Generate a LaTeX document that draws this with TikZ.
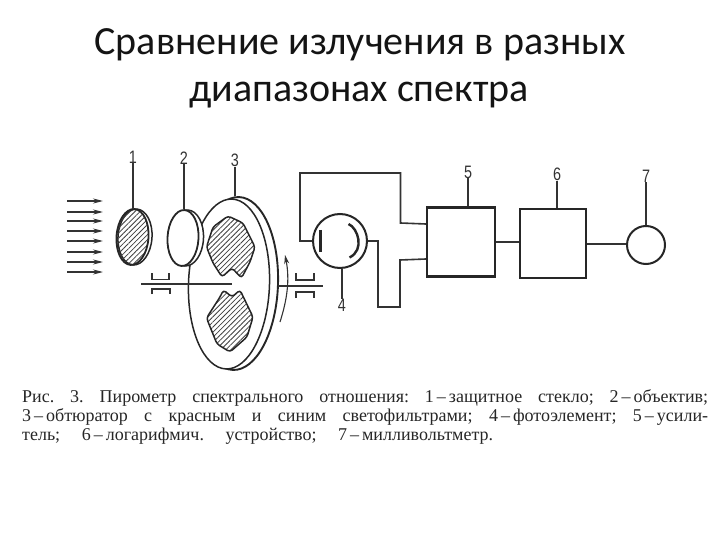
\documentclass[tikz,border=0pt]{standalone}
\usepackage{fontspec}
\setmainfont{Liberation Serif}
\newfontfamily\titlefont{Carlito}
\newfontfamily\numfont{Liberation Sans}
\usetikzlibrary{shapes.geometric,patterns.meta,arrows.meta}
\tikzset{
 ink/.style={draw=black!85,line width=1.5pt},
 thin ink/.style={draw=black!80,line width=1.1pt},
 wire/.style={draw=black!80,line width=1.6pt},
 blockbox/.style={rectangle,draw=black!85,line width=2.2pt,fill=white,inner sep=0pt},
 lensshape/.style={ellipse,inner sep=0pt,minimum width=#1,minimum height=56pt},
 hatched/.style={pattern={Lines[angle=45,distance=3.6pt,line width=.8pt]},pattern color=black!75},
 ray/.style={draw=black!80,line width=1.2pt,-{Stealth[length=10pt,width=5pt]}},
 numlabel/.style={font=\numfont\fontsize{18}{18}\selectfont,text=black!80,inner sep=0pt,xscale=.8},
 captionline/.style={font=\fontsize{18}{18}\selectfont\frenchspacing,text=black!85,inner sep=0pt,anchor=base west},
 titleline/.style={font=\titlefont\fontsize{40}{40}\selectfont,text=black!92,inner sep=0pt,anchor=base}
}
\begin{document}
\begin{tikzpicture}[x=1pt,y=-1pt]
\useasboundingbox (0,0) rectangle (720,540);
\fill[white] (0,0) rectangle (720,540);
% title
\node[titleline] (t1) at (360,55) {Сравнение излучения в разных};
\node[titleline] (t2) at (359,102) {диапазонах спектра};
% rays
\foreach \i/\y in {1/201,2/212,3/221,4/231,5/241,6/252,7/262,8/272}{
  \coordinate (ra\i) at (67,\y); \coordinate (rb\i) at (103,\y);
  \draw[ray] (ra\i) -- (rb\i);
}
% lens 1
\node[lensshape=34pt,ink,rotate=-4] (l1rim) at (135,237) {};
\node[lensshape=32pt,ink,line width=1.8pt,fill=white,hatched,rotate=-4] (l1) at (132.5,237) {};
% disk
\node[ellipse,ink,line width=1.9pt,fill=white,inner sep=0pt,minimum width=84pt,minimum height=173pt,rotate=-2] (d3rim) at (236,283.5) {};
\node[ellipse,ink,fill=white,inner sep=0pt,minimum width=81pt,minimum height=170pt,rotate=-2] (d3) at (229,284) {};
% windows
\draw[ink,hatched,rounded corners=3pt] (206.5,247)--(213,227)--(228,216)--(243,223)--(255,247)--(250,262)--(241.5,278)--(232,268)--(222,277)--(213,263)--cycle;
\draw[ink,hatched,rounded corners=3pt] (206.5,318)--(220,297)--(223.5,290)--(232,297)--(240,290)--(253,317)--(247,337)--(230,352)--(217,344)--cycle;
% lens 2
\node[lensshape=34pt,ink,fill=white,rotate=-3] (l2rim) at (186.5,238) {};
\node[lensshape=31pt,ink,line width=1.8pt,fill=white,rotate=-3] (l2) at (183,238) {};
% shaft and bearings
\coordinate (s1) at (141,284); \coordinate (s2) at (232,284);
\coordinate (s3) at (278,286); \coordinate (s4) at (323,286);
\draw[wire] (s1)--(s2); \draw[wire] (s3)--(s4);
\draw[thin ink] (152,273)--(152,279.5)--(169,279.5)--(169,273);
\draw[thin ink] (152,294)--(152,289)--(170,289)--(170,294);
\draw[thin ink] (296,273)--(296,280)--(314,280)--(314,273);
\draw[thin ink] (296,298)--(296,292)--(314,292)--(314,298);
% rotation arrow
\coordinate (ra) at (280,322); \coordinate (rb) at (285,255);
\draw[thin ink,-{Stealth[length=9pt,width=5pt]}] (ra) .. controls (287,300) and (290,280) .. (rb);
% photocell
\node[circle,draw=black!85,line width=2pt,fill=white,inner sep=0pt,minimum size=54pt] (pc) at (340,241) {};
\coordinate (c1) at (320.5,230); \coordinate (c2) at (320.5,252);
\draw[black!85,line width=2.4pt] (c1)--(c2);
\draw[black!85,line width=2.4pt] (348.5,224) .. controls (358,228) and (365,250) .. (349.5,257.5);
% blocks and meter
\node[blockbox,minimum width=68pt,minimum height=69pt] (b5) at (461,242) {};
\node[blockbox,minimum width=66pt,minimum height=69pt] (b6) at (553,243.5) {};
\node[circle,draw=black!85,line width=2pt,fill=white,inner sep=0pt,minimum size=38pt] (m7) at (646,245) {};
% wiring
\draw[wire] (pc.west) -- (300,241) -- (300,173) -- (400.5,173) -- (400.5,223) -- (b5.west |- 0,224);
\draw[wire] (pc.east) -- (378,241) -- (378,307) -- (400,307) -- (400,260) -- (b5.west |- 0,259);
\draw[wire] (b5.east |- 0,242) -- (b6.west |- 0,242);
\draw[wire] (b6.east |- 0,244) -- (m7.west |- 0,244);
% labels and leaders
\node[numlabel] (n1) at (133,157) {1};
\node[numlabel] (n2) at (184,158) {2};
\node[numlabel] (n3) at (235,160) {3};
\node[numlabel] (n4) at (342,305) {4};
\node[numlabel] (n5) at (468,172) {5};
\node[numlabel] (n6) at (557,174) {6};
\node[numlabel] (n7) at (646,176) {7};
\draw[thin ink] (n1.south) -- (n1.south |- l1.north);
\draw[thin ink] (n2.south) -- (n2.south |- l2.north);
\draw[thin ink] (n3.south) -- (n3.south |- d3rim.north);
\draw[thin ink] (n4.north) -- (n4.north |- pc.south);
\draw[thin ink] (n5.south) -- (n5.south |- b5.north);
\draw[thin ink] (n6.south) -- (n6.south |- b6.north);
\draw[thin ink] (n7.south) -- (m7.north);
% caption
\node[captionline] (k1) at (22,402.5) {\makebox[686pt][s]{Рис. 3. Пирометр спектрального отношения: 1\,–\,защитное стекло; 2\,–\,объектив;}};
\node[captionline] (k2) at (22,421.5) {\makebox[686pt][s]{3\,–\,обтюратор с красным и синим светофильтрами; 4\,–\,фотоэлемент; 5\,–\,усили-}};
\node[captionline] (k3) at (22,440) {\makebox[471pt][s]{тель; 6\,–\,логарифмич. устройство; 7\,–\,милливольтметр.}};
\end{tikzpicture}
\end{document}
